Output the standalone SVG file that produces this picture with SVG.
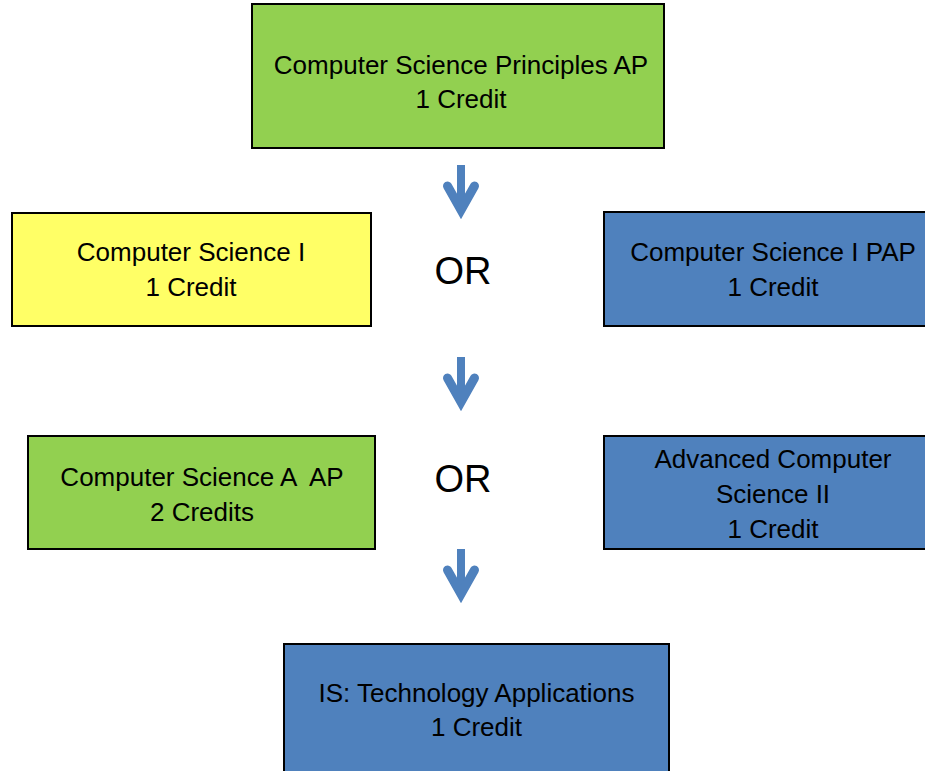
<svg xmlns="http://www.w3.org/2000/svg" xmlns:xlink="http://www.w3.org/1999/xlink" width="925" height="771" viewBox="0 0 925 771">
<style>
.box{stroke:#000;stroke-width:2}
.green{fill:#92D050}
.yellow{fill:#FFFF66}
.blue{fill:#4F81BD}
.t{font-family:"Liberation Sans",Arial,sans-serif;font-size:26px;fill:#000;text-anchor:middle;white-space:pre}
.or{font-family:"Liberation Sans",Arial,sans-serif;font-size:38px;fill:#000;text-anchor:middle}
.arr{fill:none;stroke:#4F81BD}
</style>
<defs>
<g id="arrow">
<line class="arr" x1="0" y1="0" x2="0" y2="46" stroke-width="8"/>
<polyline class="arr" points="-13.5,21 0,45 13.5,21" stroke-width="9" stroke-linecap="round" stroke-linejoin="miter"/>
</g>
</defs>
<rect width="925" height="771" fill="#fff"/>
<g id="connectors">
<use xlink:href="#arrow" x="461" y="165"/>
<use xlink:href="#arrow" x="461" y="357"/>
<use xlink:href="#arrow" x="461" y="549"/>
</g>
<g id="node-csp">
<rect class="box green" x="252" y="4" width="412" height="144"/>
<text class="t" x="461" y="74">Computer Science Principles AP</text>
<text class="t" x="461" y="108">1 Credit</text>
</g>
<g id="node-cs1">
<rect class="box yellow" x="12" y="213" width="359" height="113"/>
<text class="t" x="191" y="261">Computer Science I</text>
<text class="t" x="191" y="296">1 Credit</text>
</g>
<g id="or1"><text class="or" x="463" y="284">OR</text></g>
<g id="node-cs1pap">
<rect class="box blue" x="604" y="212" width="337" height="114"/>
<text class="t" x="773" y="261">Computer Science I PAP</text>
<text class="t" x="773" y="296">1 Credit</text>
</g>
<g id="node-csa">
<rect class="box green" x="28" y="436" width="347" height="113"/>
<text class="t" x="202" y="486">Computer Science A  AP</text>
<text class="t" x="202" y="521">2 Credits</text>
</g>
<g id="or2"><text class="or" x="463" y="492">OR</text></g>
<g id="node-acs2">
<rect class="box blue" x="604" y="436" width="337" height="113"/>
<text class="t" x="773" y="468">Advanced Computer</text>
<text class="t" x="773" y="503">Science II</text>
<text class="t" x="773" y="538">1 Credit</text>
</g>
<g id="node-is">
<rect class="box blue" x="284" y="644" width="385" height="140"/>
<text class="t" x="476.5" y="702">IS: Technology Applications</text>
<text class="t" x="476.5" y="736">1 Credit</text>
</g>
</svg>
